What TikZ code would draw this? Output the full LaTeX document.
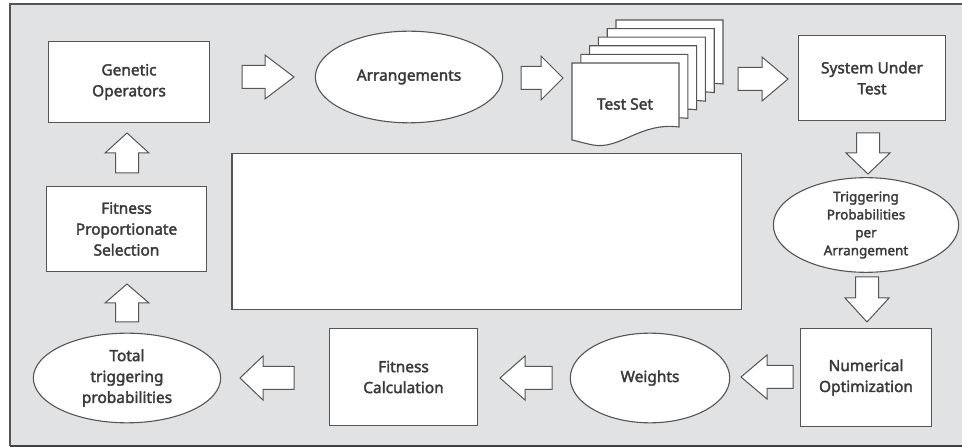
\documentclass[tikz,border=0pt]{standalone}
\usepackage{fontspec}
\setmainfont{Noto Sans}
\newfontfamily\boldnoto{Noto Sans}[FakeBold=2.2]
\usetikzlibrary{shapes.geometric}
\definecolor{bgc}{HTML}{E1E2E4}
\definecolor{lc}{HTML}{555555}
\definecolor{tc}{HTML}{3A3A3A}
\newcommand\myMainFont{\boldnoto\fontsize{15.5}{21}\selectfont}
\newcommand\mySmallFont{\boldnoto\fontsize{13.5}{18}\selectfont}
\tikzset{
  box/.style={draw=lc, fill=white, line width=1.1bp, align=center, text=tc, font=\myMainFont, inner sep=0pt},
  ell/.style={box, ellipse},
  page/.style={draw=lc, fill=white, line width=1.1bp},
  barrowsty/.style={draw=lc, fill=white, line width=1bp, line join=miter},
  pics/barrow/.style args={#1/#2}{code={
    \path[barrowsty] (0,-11.5) -- ({#1-#2},-11.5) -- ({#1-#2},-22) -- (#1,0)
      -- ({#1-#2},22) -- ({#1-#2},11.5) -- (0,11.5) -- cycle;
  }}
}
\begin{document}
\begin{tikzpicture}[x=1bp,y=-1bp]
\useasboundingbox (0,0) rectangle (962,447);
\fill[white] (0,0) rectangle (962,447);
% frame
\fill[bgc] (10,4) rectangle (964,446);
\draw[lc, line width=1.3bp] (964,4) -- (10,4) -- (10,446);
\draw[black!75, line width=1.6bp] (10,446) -- (964,446);

% nodes
\node[box, minimum width=162, minimum height=82] (go) at (129,82) {Genetic\\Operators};
\node[ell, minimum width=188, minimum height=92] (arr) at (409,77) {Arrangements};
% test set pages
\foreach \k in {5,4,3,2,1,0}{
  \begin{scope}[shift={({8.8*\k},{-8.6*\k})}]
    \path[page] (572,63) -- (679,63) -- (679,127)
      .. controls (640,122) and (620,150) .. (593,145)
      .. controls (583,143) and (577,141) .. (572,140) -- cycle;
  \end{scope}
}
\node[text=tc, font=\myMainFont, inner sep=0pt] (ts) at (625,104) {Test Set};
\node[box, minimum width=148, minimum height=86] (sut) at (872,78) {System Under\\Test};
\node[ell, minimum width=186, minimum height=88, font=\mySmallFont] (tpa) at (866,225) {Triggering\\Probabilities\\per\\Arrangement};
\node[box, minimum width=132, minimum height=99] (no) at (866,377.5) {Numerical\\Optimization};
\node[ell, minimum width=160, minimum height=90] (w) at (650,378) {Weights};
\node[box, minimum width=149, minimum height=98] (fc) at (403.5,377) {Fitness\\Calculation};
\node[ell, minimum width=188, minimum height=90] (tt) at (127,378) {Total\\triggering\\probabilities};
\node[box, minimum width=161, minimum height=86] (fps) at (126.5,229) {Fitness\\Proportionate\\Selection};
\node[box, minimum width=511, minimum height=157] (big) at (486.5,231.5) {};

% block arrows
\pic (a1) at (242,77) {barrow=52/29};
\pic (a2) at (521,78) {barrow=42/22};
\pic (a3) at (738,79) {barrow=50/26};
\pic[rotate=-90] (a4) at (868,133) {barrow=41/21};
\pic[rotate=-90] (a5) at (867,277) {barrow=45/24};
\pic[rotate=180] (a6) at (793,377) {barrow=52/26};
\pic[rotate=180] (a7) at (552,378) {barrow=52/25};
\pic[rotate=180] (a8) at (294,378) {barrow=54/23};
\pic[rotate=90] (a9) at (127,322) {barrow=38/19};
\pic[rotate=90] (a10) at (127,173) {barrow=40/20};
\end{tikzpicture}
\end{document}
